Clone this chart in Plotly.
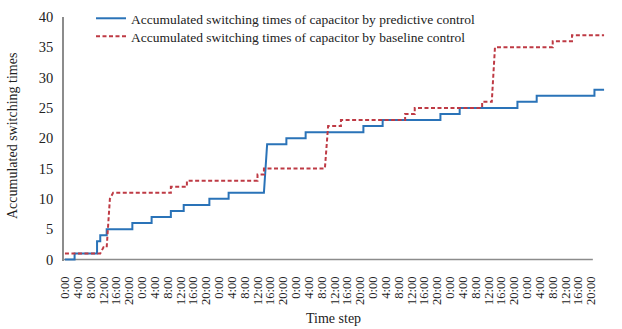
import plotly.graph_objects as go

# ---- data (hours since start, accumulated switching count) ----
pred_t = [0, 3, 3, 10, 10, 11, 11, 13, 13, 21, 21, 27, 27, 33, 33, 37, 37, 45, 45, 51, 51,
          62, 63, 69, 69, 75, 75, 93, 93, 99, 99, 117, 117, 123, 123, 141, 141, 147, 147, 165, 165, 168]
pred_v = [0, 0, 1, 1, 3, 3, 4, 4, 5, 5, 6, 6, 7, 7, 8, 8, 9, 9, 10, 10, 11,
          11, 19, 19, 20, 20, 21, 21, 22, 22, 23, 23, 24, 24, 25, 25, 26, 26, 27, 27, 28, 28]

base_t = [0, 11, 12, 13, 14, 15, 33, 33, 38, 38, 60, 60, 62, 62, 81, 82, 86, 86,
          106, 106, 109, 109, 130, 130, 133, 134, 152, 152, 158, 158, 168]
base_v = [1, 1, 2, 2, 10, 11, 11, 12, 12, 13, 13, 14, 14, 15, 15, 22, 22, 23,
          23, 24, 24, 25, 25, 26, 26, 35, 35, 36, 36, 37, 37]

day_labels = ["0:00", "4:00", "8:00", "12:00", "16:00", "20:00"]
n_days = 7
tick_hours = list(range(0, 24 * n_days, 4))
tick_text = day_labels * n_days
y_ticks = [0, 5, 10, 15, 20, 25, 30, 35, 40]

FONT = "Liberation Serif, Times New Roman, serif"
BLUE = "#2A73B8"
RED = "#BE3A44"
AXIS = "#8C8C8C"
TXT = "#222222"

fig = go.Figure()
fig.add_trace(go.Scatter(
    x=pred_t, y=pred_v, mode="lines",
    name="Accumulated switching times of capacitor by predictive control",
    line=dict(color=BLUE, width=2), legend="legend"))
fig.add_trace(go.Scatter(
    x=base_t, y=base_v, mode="lines",
    name="Accumulated switching times of capacitor by baseline control",
    line=dict(color=RED, width=2, dash="4px,2.5px"), legend="legend2"))

# horizontal axis line (ends at the last tick label, as in the reference)
fig.add_shape(type="line", x0=-0.3, x1=164.5, y0=0, y1=0, xref="x", yref="y",
              line=dict(color=AXIS, width=1.5), layer="below")

# axis titles
fig.add_annotation(text="Accumulated switching times", xref="paper", yref="paper",
                   x=(12 - 64) / 542, y=(261 - 136) / 244, textangle=-90,
                   showarrow=False, xanchor="center", yanchor="middle",
                   font=dict(family=FONT, size=14, color=TXT))
fig.add_annotation(text="Time step", xref="paper", yref="paper",
                   x=(333 - 64) / 542, y=(261 - 318) / 244,
                   showarrow=False, xanchor="center", yanchor="middle",
                   font=dict(family=FONT, size=14, color=TXT))

leg_common = dict(xref="container", yref="container", xanchor="left", yanchor="top",
                  bgcolor="rgba(0,0,0,0)",
                  font=dict(family=FONT, size=13.5, color=TXT), itemwidth=30)

fig.update_layout(
    width=622, height=329,
    margin=dict(l=64, r=16, t=17, b=68, autoexpand=False),
    paper_bgcolor="white", plot_bgcolor="white",
    font=dict(family=FONT, size=13, color=TXT),
    showlegend=True,
    legend=dict(x=91 / 622, y=1 - 3 / 329, **leg_common),
    legend2=dict(x=91 / 622, y=1 - 21 / 329, **leg_common),
    xaxis=dict(range=[-0.3, 168.6], tickmode="array", tickvals=tick_hours, ticktext=tick_text,
               tickangle=-90, showgrid=False, zeroline=False, showline=False,
               ticks="", tickfont=dict(family=FONT, size=12.5, color=TXT),
               ticklabelstandoff=12, automargin=False),
    yaxis=dict(range=[-0.25, 40], tickvals=y_ticks, showgrid=False, zeroline=False,
               showline=True, linecolor=AXIS, linewidth=1.5, ticks="",
               tickfont=dict(family=FONT, size=14.5, color=TXT),
               ticklabelstandoff=6, automargin=False),
)

fig.write_html("out.html")
